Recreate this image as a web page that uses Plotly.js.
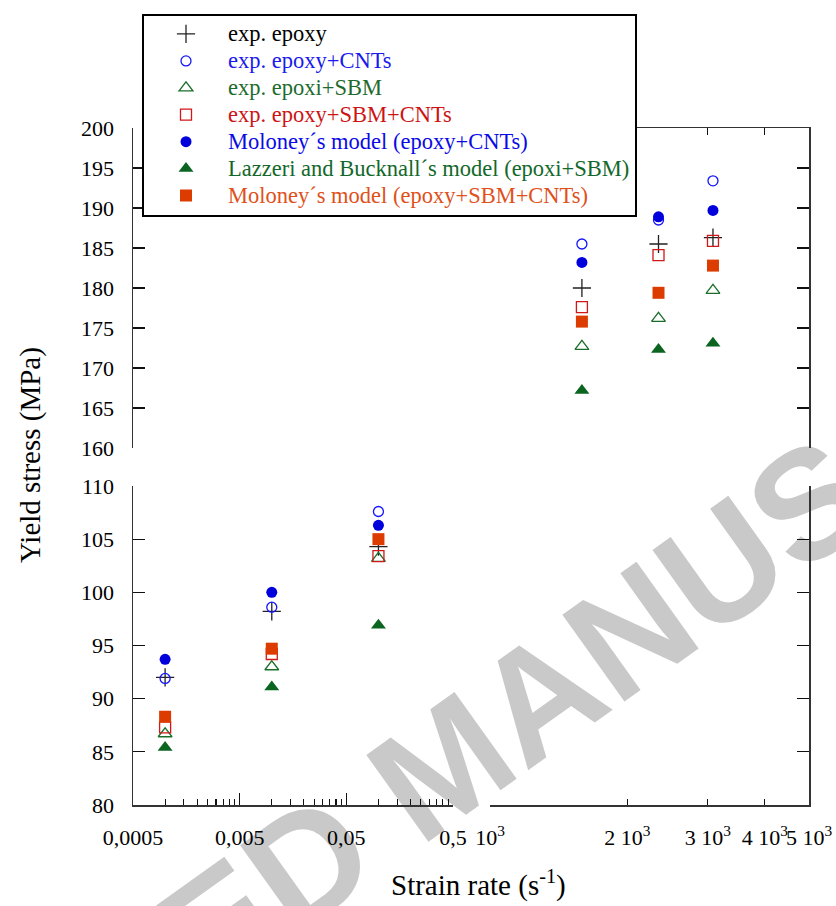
<!DOCTYPE html>
<html><head><meta charset="utf-8">
<script src="https://cdn.plot.ly/plotly-3.0.1.min.js"></script>
<style>html,body{margin:0;padding:0;background:#fff}</style>
</head><body><div id="chart" style="width:836px;height:906px"></div>
<script>
// ---- data ----
const strainLow = [0.001, 0.01, 0.1];
const strainHigh = [1590, 2340, 3080];
const seriesLabels = ['exp. epoxy', 'exp. epoxy+CNTs', 'exp. epoxi+SBM', 'exp. epoxy+SBM+CNTs',
  'Moloney\u00b4s model (epoxy+CNTs)', 'Lazzeri and Bucknall\u00b4s model (epoxi+SBM)', 'Moloney\u00b4s model (epoxy+SBM+CNTs)'];
// values: 3 low-rate points then 3 high-rate points (MPa)
const expEpoxy       = [92.0, 98.2, 104.3, 180.0, 185.5, 186.3];
const expEpoxyCNT    = [91.9, 98.6, 107.6, 185.5, 188.5, 193.4];
const expEpoxiSBM    = [86.7, 93.0, 103.2, 172.7, 176.2, 179.7];
const expEpoxySBMCNT = [87.3, 94.2, 103.4, 177.6, 184.1, 185.9];
const moloneyCNT     = [93.7, 100.0, 106.3, 183.2, 188.9, 189.7];
const lazzeriSBM     = [85.4, 91.1, 96.9, 167.2, 172.3, 173.1];
const moloneySBMCNT  = [88.3, 94.7, 105.0, 175.8, 179.4, 182.8];
const lowTickVals = [0.0005, 0.005, 0.05, 0.5];
const lowTickText = ['0,0005', '0,005', '0,05', '0,5'];
const highTickVals = [1000, 2000, 3000, 4000, 5000];
const highTickText = ['10<sup>3</sup>', '2 10<sup>3</sup>', '3 10<sup>3</sup>', '4 10<sup>3</sup>', '5 10<sup>3</sup>'];

// ---- styles ----
const seriesValues = [expEpoxy, expEpoxyCNT, expEpoxiSBM, expEpoxySBMCNT, moloneyCNT, lazzeriSBM, moloneySBMCNT];
const styles = [
  {symbol:'cross-thin-open', size:13, color:'#222222', lw:1.3, text:'#000000'},
  {symbol:'circle-open', size:10, color:'#1414ff', lw:1.3, text:'#1a1aee'},
  {symbol:'triangle-up-open', size:12, color:'#1a6e2a', lw:1.3, text:'#1e6a2c'},
  {symbol:'square-open', size:11, color:'#d01818', lw:1.3, text:'#cc1414'},
  {symbol:'circle', size:11, color:'#0000dd', lw:0, text:'#0a0ae6'},
  {symbol:'triangle-up', size:13, color:'#0b6420', lw:0, text:'#12682a'},
  {symbol:'square', size:12, color:'#dd3c00', lw:0, text:'#e0501a'}
];
const W = 836, H = 906;
const fx = p => p / W;
const fy = p => 1 - p / H;

const traces = [];
seriesValues.forEach((vals, i) => {
  const s = styles[i];
  const marker = {symbol: s.symbol, size: s.size, color: s.color, line: {width: s.lw, color: s.color}};
  traces.push({x: strainLow, y: vals.slice(0, 3), xaxis:'x', yaxis:'y', mode:'markers', type:'scatter',
    name: '<span style="font-size:22.5px;color:' + s.text + '">' + seriesLabels[i] + '</span>', legendgroup: 'g' + i, marker: marker});
  traces.push({x: strainHigh, y: vals.slice(3), xaxis:'x3', yaxis:'y4', mode:'markers', type:'scatter',
    name: seriesLabels[i], legendgroup: 'g' + i, showlegend: false, marker: marker});
});
// empty traces so the two data-less panels get their axes
traces.push({x: [], y: [], xaxis:'x4', yaxis:'y2', type:'scatter', mode:'markers', showlegend:false, hoverinfo:'skip'});
traces.push({x: [], y: [], xaxis:'x2', yaxis:'y3', type:'scatter', mode:'markers', showlegend:false, hoverinfo:'skip'});

const minorLow = [];
lowTickVals.slice(0, 3).forEach(b => { for (let k = 2; k <= 9; k++) minorLow.push(+(b * k).toPrecision(6)); });

const tf = {family:'Liberation Serif, Times New Roman, serif', size:22, color:'#000'};
const base = {visible:true, showgrid:false, zeroline:false, showline:true, linecolor:'#333', linewidth:1.5,
  ticks:'inside', tickcolor:'#111', tickwidth:1.2, tickfont: tf, fixedrange:true};
const lowDom = [fy(805), fy(486)], upDom = [fy(448), fy(128)];
const leftDom = [fx(133), fx(453)], rightDom = [fx(490), fx(809)];
const lowRange = [Math.log10(0.0005), Math.log10(0.5)], highRange = [3, Math.log10(5000)];

const layout = {
  width: W, height: H, margin:{l:0, r:0, t:0, b:0}, paper_bgcolor:'#fff', plot_bgcolor:'rgba(0,0,0,0)',
  showlegend: true,
  // lower-left
  xaxis: Object.assign({}, base, {type:'log', domain: leftDom, range: lowRange, anchor:'y',
    tickmode:'array', tickvals: lowTickVals, ticktext: lowTickText, ticklen:12, ticklabelstandoff: 12, tickangle:0,
    minor:{tickmode:'array', tickvals: minorLow, ticklen:6, ticks:'inside', tickcolor:'#111', tickwidth:1.2}}),
  yaxis: Object.assign({}, base, {domain: lowDom, range:[80, 110], anchor:'x', tickmode:'linear', tick0:80, dtick:5, ticklen:12, ticklabelstandoff: 13}),
  // upper-left
  xaxis4: Object.assign({}, base, {type:'log', domain: leftDom, range: lowRange, anchor:'y2', side:'top',
    showline:false, ticks:'', showticklabels:false}),
  yaxis2: Object.assign({}, base, {domain: upDom, range:[160, 200], anchor:'x4', tickmode:'linear', tick0:160, dtick:5, ticklen:12, ticklabelstandoff: 13}),
  // lower-right
  xaxis2: Object.assign({}, base, {type:'log', domain: rightDom, range: highRange, anchor:'y3',
    tickmode:'array', tickvals: highTickVals, ticktext: highTickText, ticklen:6, ticklabelstandoff: 12, tickangle:0,
    minor:{tickmode:'array', tickvals:[1000], ticklen:12, ticks:'inside', tickcolor:'#111', tickwidth:1.2}}),
  yaxis3: Object.assign({}, base, {domain: lowDom, range:[80, 110], anchor:'x2', side:'right', tickmode:'linear', tick0:80, dtick:5, ticklen:12, showticklabels:false}),
  // upper-right
  xaxis3: Object.assign({}, base, {type:'log', domain: rightDom, range: highRange, anchor:'y4', side:'top',
    tickmode:'array', tickvals: highTickVals, ticklen:7, showticklabels:false}),
  yaxis4: Object.assign({}, base, {domain: upDom, range:[160, 200], anchor:'x3', side:'right', tickmode:'linear', tick0:160, dtick:5, ticklen:12, showticklabels:false}),
  legend: {x: fx(142), y: fy(13.5), xanchor:'left', yanchor:'top', bgcolor:'#fff', bordercolor:'#000', borderwidth:2,
    font:{family:'Liberation Serif, Times New Roman, serif', size:18.4, color:'#000'}, itemwidth:74, tracegroupgap:0},
  annotations: [
    {text:'Yield stress (MPa)', xref:'paper', yref:'paper', x: fx(30), y: fy(455), textangle:-90, showarrow:false,
     xanchor:'center', yanchor:'middle', font:{family:'Liberation Serif, Times New Roman, serif', size:29, color:'#000'}},
    {text:'Strain rate (s<sup>-1</sup>)', xref:'paper', yref:'paper', x: fx(478), y: fy(883), showarrow:false,
     xanchor:'center', yanchor:'middle', font:{family:'Liberation Serif, Times New Roman, serif', size:29, color:'#000'}}
  ],
  shapes: (function(){
    const cx = 436, cy = 752, ang = 35.6 * Math.PI / 180, L = 900;
    return [{type:'line', xref:'paper', yref:'paper', layer:'below',
      x0: fx(cx - L*Math.cos(ang)), y0: fy(cy + L*Math.sin(ang)), x1: fx(cx + L*Math.cos(ang)), y1: fy(cy - L*Math.sin(ang)),
      line:{width:1, color:'rgba(0,0,0,0)'},
      label:{text:'ACCEPTED MANUSCRIPT', textposition:'middle', yanchor:'middle', textangle:'auto',
        font:{family:'Liberation Sans, Arial, sans-serif', size:155, color:'#c9c9c9', weight:'bold'}}}];
  })()
};

Plotly.newPlot('chart', traces, layout, {displayModeBar:false, staticPlot:true});
</script></body></html>
